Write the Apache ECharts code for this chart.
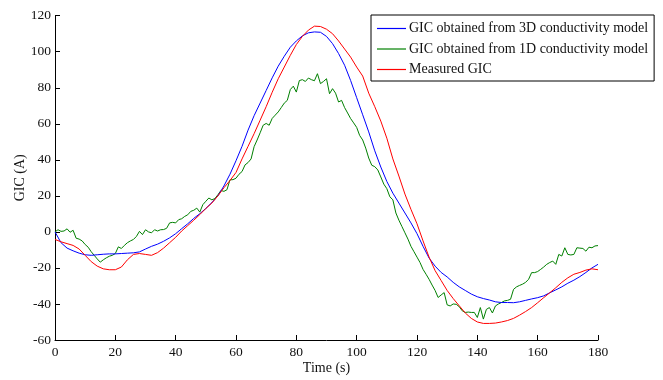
<!DOCTYPE html>
<html>
<head>
<meta charset="utf-8">
<script src="https://cdn.jsdelivr.net/npm/echarts@6/dist/echarts.min.js"></script>
<style>
html,body{margin:0;padding:0;background:#fff;}
#chart{width:663px;height:380px;}
</style>
</head>
<body>
<div id="chart"></div>
<script>
// Time grid for the smooth curves (2 s step)
const time2 = [0,2,4,6,8,10,12,14,16,18,20,22,24,26,28,30,32,34,36,38,40,42,44,46,48,50,52,54,56,58,60,62,64,66,68,70,72,74,76,78,80,82,84,86,88,90,92,94,96,98,100,102,104,106,108,110,112,114,116,118,120,122,124,126,128,130,132,134,136,138,140,142,144,146,148,150,152,154,156,158,160,162,164,166,168,170,172,174,176,178,180];

const gic3D = [0,-6,-9,-10.5,-11.8,-12.7,-13,-12.7,-12.4,-12.2,-12.2,-12,-11.8,-11.6,-11.1,-9.5,-8,-6.8,-5.2,-3.3,-1,1.8,4.5,7.5,10.1,13,16.3,20,25.5,32,39.5,47.5,56.5,64.5,71.5,78.5,85.5,92,97.5,102.5,106,108.8,110.5,111,110.8,108.5,104.5,99,92.5,84,74.5,65,55.5,45,36,28,21.5,16,10.5,5,-1,-8,-14.5,-19,-22.5,-25,-28,-30.5,-32.5,-34.5,-36,-37,-37.8,-38.8,-39.2,-39.2,-39.3,-38.8,-38,-37.2,-36.5,-35.5,-33.8,-32.2,-30.5,-28.5,-26.8,-24.8,-22.5,-20,-18];

const gicMeasured = [-4.2,-5.5,-6.5,-7.5,-9.5,-13,-16.5,-19,-20.5,-21,-21,-19.5,-15.5,-12.5,-12,-12.5,-13,-11.5,-9,-6,-3,0.5,3.5,6.5,9.6,13,16,20,24.5,28.5,33,40.5,47.5,54.5,62,69.5,77.5,85,91.5,98,104,108.5,112,114.2,114,112.5,110,106,101.5,97,91.5,86.5,77,69.5,61.5,52,40.5,31,21,12.5,4.5,-5,-14,-21.5,-27,-32.5,-37,-41,-45,-48,-50,-50.8,-50.8,-50.6,-50,-49.2,-48,-46.2,-44.2,-42,-39.3,-36.5,-33.8,-31,-28,-25.5,-23.5,-22.5,-21.2,-20.5,-21];

// 1D model curve sampled every 1 s (0..180)
const gic1D = [0,1.2,0.3,0.5,1.7,-0.2,0.9,-3.5,-4,-5,-7,-8.5,-11,-13,-15,-16.8,-15.5,-14.4,-13.5,-13,-12,-8.3,-9.2,-7.5,-6,-5,-4.2,-2.5,0.3,-1.5,1.2,0,-0.5,1.2,0.5,1.2,1.3,2,5,5.3,5,6.8,7.3,8.6,9.5,11.4,12,13.2,11,15.1,17,18.8,17.8,18.5,20.6,23,22.5,23.4,28.9,29,29.8,32,33.5,37.2,38.5,40.5,47.3,51,55,59.2,60.2,59.2,63,64.8,66.6,69,71.5,73,79,80.9,77.6,84,84.5,83.5,85.4,84.5,83.9,87.8,82.3,83.5,85,76.7,79.5,77,72.1,73,69,66,62.9,60.5,58,53.5,51,46.5,41,37,36.2,34.4,30.5,26.5,24,19.5,17.8,10.5,6.5,3,-0.5,-4,-8,-11,-14,-17,-20.8,-23.5,-26.3,-29.5,-32.5,-36.4,-35,-33.7,-40.5,-41.1,-40,-40.2,-41.5,-43.8,-44.7,-44.5,-44.7,-44.7,-47.5,-42,-48.4,-43,-42,-45,-41.1,-40,-39.2,-38.3,-38,-37.4,-31.9,-30.5,-29.7,-29,-28,-26.3,-22.6,-22.6,-22,-20.8,-19.5,-18,-17,-16.2,-18,-12.5,-13.4,-8.8,-12.5,-12.8,-12.5,-8.8,-9,-9.2,-10.7,-8.5,-8.8,-7.8,-7.6];
const time1 = gic1D.map((_, i) => i);

const seriesNames = ['GIC obtained from 3D conductivity model','GIC obtained from 1D conductivity model','Measured GIC'];
const xTicks = [0,20,40,60,80,100,120,140,160,180];
const yTicks = [-60,-40,-20,0,20,40,60,80,100,120];

const font = '"Liberation Serif", "Times New Roman", serif';
const pair = (t, v) => t.map((x, i) => [x, v[i]]);

const chart = echarts.init(document.getElementById('chart'), null, {renderer: 'canvas'});
chart.setOption({
  animation: false,
  backgroundColor: '#fff',
  grid: {left: 55, right: 65, top: 15.7, bottom: 38.3, containLabel: false},
  legend: {
    left: 371, top: 15,
    orient: 'vertical',
    data: seriesNames,
    icon: 'rect',
    backgroundColor: '#fff',
    borderColor: '#000', borderWidth: 1,
    padding: [6, 6, 4, 6],
    itemWidth: 29, itemHeight: 1.2, itemGap: 5.5,
    textStyle: {fontFamily: font, fontSize: 14, color: '#111', padding: [0,0,0,-2], lineHeight: 15}
  },
  xAxis: {
    type: 'value', min: xTicks[0], max: xTicks[xTicks.length-1], interval: 20,
    name: 'Time (s)', nameLocation: 'middle', nameGap: 21, nameMoveOverlap: false,
    nameTextStyle: {fontFamily: font, fontSize: 14, color: '#111'},
    axisLine: {show: true, onZero: false, lineStyle: {color: '#000', width: 1}},
    axisTick: {show: true, inside: true, length: 5, lineStyle: {color: '#000'}},
    axisLabel: {fontFamily: font, fontSize: 13.5, color: '#111', margin: 5},
    splitLine: {show: false}
  },
  yAxis: {
    type: 'value', min: yTicks[0], max: yTicks[yTicks.length-1], interval: 20,
    name: 'GIC (A)', nameLocation: 'middle', nameGap: 28, nameMoveOverlap: false,
    nameTextStyle: {fontFamily: font, fontSize: 14, color: '#111'},
    axisLine: {show: true, onZero: false, lineStyle: {color: '#000', width: 1}},
    axisTick: {show: true, inside: true, length: 5, lineStyle: {color: '#000'}},
    axisLabel: {fontFamily: font, fontSize: 13.5, color: '#111', margin: 4},
    splitLine: {show: false}
  },
  series: [
    {name: seriesNames[0], type: 'line', data: pair(time2, gic3D), symbol: 'none', smooth: false,
     lineStyle: {color: '#0000ff', width: 1}, itemStyle: {color: '#0000ff'}, z: 3},
    {name: seriesNames[1], type: 'line', data: pair(time1, gic1D), symbol: 'none',
     lineStyle: {color: '#008000', width: 1}, itemStyle: {color: '#008000'}, z: 2},
    {name: seriesNames[2], type: 'line', data: pair(time2, gicMeasured), symbol: 'none',
     lineStyle: {color: '#ff0000', width: 1}, itemStyle: {color: '#ff0000'}, z: 4}
  ]
});
</script>
</body>
</html>
